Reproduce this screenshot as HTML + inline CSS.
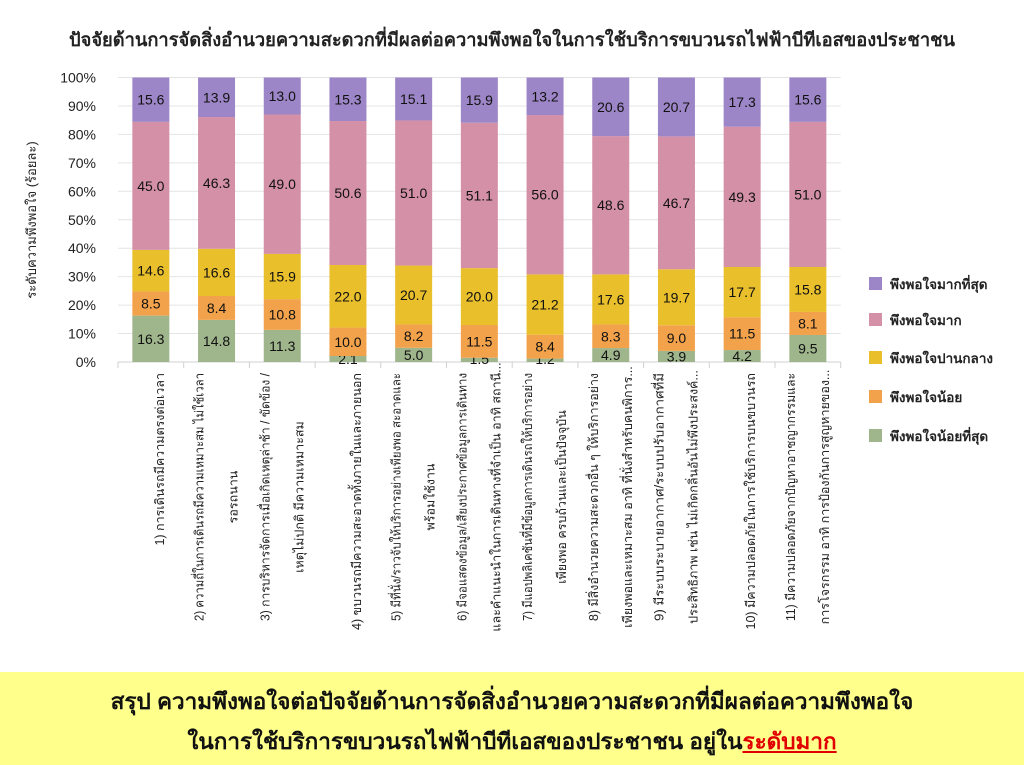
<!DOCTYPE html>
<html><head><meta charset="utf-8">
<style>
html,body{margin:0;padding:0;background:#fff;}
body{width:1024px;height:765px;position:relative;overflow:hidden;font-family:"Liberation Sans","Noto Sans CJK SC","WenQuanYi Zen Hei",sans-serif;}
#bottom{position:absolute;left:0;top:672px;width:1024px;height:93px;background:#ffff8c;text-align:center;font-weight:bold;font-size:22.5px;color:#111;}
#bottom div{position:absolute;left:0;width:1024px;}
.red{color:#e00000;text-decoration:underline;}
</style></head><body>
<svg id="chart" width="1024" height="672" xmlns="http://www.w3.org/2000/svg" style="position:absolute;left:0;top:0;font-family:'Liberation Sans','Noto Sans CJK SC',sans-serif;"></svg>
<div id="bottom">
<div style="top:11px;">สรุป ความพึงพอใจต่อปัจจัยด้านการจัดสิ่งอำนวยความสะดวกที่มีผลต่อความพึงพอใจ</div>
<div style="top:51px;">ในการใช้บริการขบวนรถไฟฟ้าบีทีเอสของประชาชน อยู่ใน<span class="red">ระดับมาก</span></div>
</div>
<script>
const data=[
[16.3,8.5,14.6,45.0,15.6],[14.8,8.4,16.6,46.3,13.9],[11.3,10.8,15.9,49.0,13.0],
[2.1,10.0,22.0,50.6,15.3],[5.0,8.2,20.7,51.0,15.1],[1.5,11.5,20.0,51.1,15.9],
[1.2,8.4,21.2,56.0,13.2],[4.9,8.3,17.6,48.6,20.6],[3.9,9.0,19.7,46.7,20.7],
[4.2,11.5,17.7,49.3,17.3],[9.5,8.1,15.8,51.0,15.6]];
const cols=["#9fb58c","#f3a24c","#e9bf2c","#d390a7","#9d86c7"];
const labels=[
["1) การเดินรถมีความตรงต่อเวลา"],
["2) ความถี่ในการเดินรถมีความเหมาะสม ไม่ใช้เวลา","รอรถนาน"],
["3) การบริหารจัดการเมื่อเกิดเหตุล่าช้า / ขัดข้อง /","เหตุไม่ปกติ มีความเหมาะสม"],
["4) ขบวนรถมีความสะอาดทั้งภายในและภายนอก"],
["5) มีที่นั่ง/ราวจับให้บริการอย่างเพียงพอ สะอาดและ","พร้อมใช้งาน"],
["6) มีจอแสดงข้อมูล/เสียงประกาศข้อมูลการเดินทาง","และคำแนะนำในการเดินทางที่จำเป็น อาทิ สถานี..."],
["7) มีแอปพลิเคชันที่มีข้อมูลการเดินรถให้บริการอย่าง","เพียงพอ ครบถ้วนและเป็นปัจจุบัน"],
["8) มีสิ่งอำนวยความสะดวกอื่น ๆ ให้บริการอย่าง","เพียงพอและเหมาะสม อาทิ ที่นั่งสำหรับคนพิการ..."],
["9) มีระบบระบายอากาศ/ระบบปรับอากาศที่มี","ประสิทธิภาพ เช่น ไม่เกิดกลิ่นอันไม่พึงประสงค์..."],
["10) มีความปลอดภัยในการใช้บริการบนขบวนรถ"],
["11) มีความปลอดภัยจากปัญหาอาชญากรรมและ","การโจรกรรม อาทิ การป้องกันการสูญหายของ..."]];
let s='';
const x0=118,step=65.7,y0=362,y1=77.5,H=y0-y1;
s+='<text x="512" y="46" text-anchor="middle" font-size="18.5" font-weight="bold" fill="#222" textLength="886" lengthAdjust="spacingAndGlyphs">ปัจจัยด้านการจัดสิ่งอำนวยความสะดวกที่มีผลต่อความพึงพอใจในการใช้บริการขบวนรถไฟฟ้าบีทีเอสของประชาชน</text>';
for(let i=0;i<=10;i++){const y=y0-H*i/10;
 s+=`<line x1="${x0}" x2="${x0+11*step}" y1="${y}" y2="${y}" stroke="#e4e4e4"/>`;
 s+=`<text x="96" y="${y+5}" text-anchor="end" font-size="14" fill="#222">${i*10}%</text>`;}
for(let i=0;i<=11;i++){const x=x0+i*step;s+=`<line x1="${x}" x2="${x}" y1="${y0}" y2="${y0+6}" stroke="#d0d0d0"/>`;}
s+=`<line x1="${x0}" x2="${x0+11*step}" y1="${y0}" y2="${y0}" stroke="#d0d0d0"/>`;
s+='<text transform="translate(36,220) rotate(-90)" text-anchor="middle" font-size="13" fill="#222">ระดับความพึงพอใจ (ร้อยละ)</text>';
data.forEach((d,i)=>{const tot=d.reduce((a,b)=>a+b,0);let acc=0;const cx=x0+step*(i+0.5),w=37;
 d.forEach((v,j)=>{const ya=y0-H*acc/tot,yb=y0-H*(acc+v)/tot;acc+=v;
  s+=`<rect x="${cx-w/2}" y="${yb}" width="${w}" height="${ya-yb}" fill="${cols[j]}"/>`;
  let ty=(ya+yb)/2+5; if(ty>y0+2)ty=y0+2;
  s+=`<text x="${cx}" y="${ty}" text-anchor="middle" font-size="14" fill="#111">${v.toFixed(1)}</text>`;});
 const L=labels[i];
 if(L.length==1){s+=`<text transform="translate(${cx+13},373) rotate(-90)" text-anchor="end" font-size="12.5" fill="#222">${L[0]}</text>`;}
 else{s+=`<text transform="translate(${cx-13},373) rotate(-90)" text-anchor="end" font-size="12.5" fill="#222" textLength="248" lengthAdjust="spacingAndGlyphs">${L[0]}</text>`;
  s+=`<text transform="translate(${cx+21},497) rotate(-90)" text-anchor="middle" font-size="12.5" fill="#222">${L[1]}</text>`;}
});
const lg=[["พึงพอใจมากที่สุด",4,284],["พึงพอใจมาก",3,320],["พึงพอใจปานกลาง",2,358],["พึงพอใจน้อย",1,397],["พึงพอใจน้อยที่สุด",0,436]];
lg.forEach(l=>{s+=`<rect x="869" y="${l[2]-7}" width="13" height="13" fill="${cols[l[1]]}"/>`;
 s+=`<text x="890" y="${l[2]+5}" font-size="13.5" font-weight="bold" fill="#222">${l[0]}</text>`;});
document.getElementById('chart').innerHTML=s;
</script>
</body></html>
